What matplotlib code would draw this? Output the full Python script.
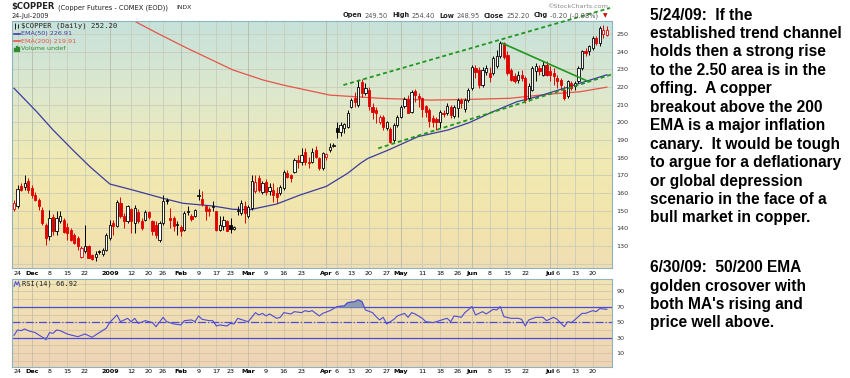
"""
$COPPER daily candles with EMA(50)/EMA(200), trend channel and RSI(14),
plus the chartist's notes on the right.
"""

import numpy as np
import pandas as pd
import matplotlib
matplotlib.use("Agg")
import matplotlib.pyplot as plt
from matplotlib.patches import Rectangle

# ── daily bars, 21-Nov-2008 .. 24-Jul-2009 ───────────────────────────────
opens = [151.0, 152.5, 163.8, 163.3, 167.0, 162.9, 159.0, 156.3, 150.6, 142.0,
         135.5, 146.3, 138.3, 144.0, 145.0, 141.0, 139.3, 136.0, 134.6, 123.6,
         127.0, 129.9, 124.8, 123.6, 127.4, 125.5, 128.0, 134.6, 143.0, 141.2,
         154.4, 146.8, 144.0, 151.2, 143.0, 149.3, 144.0, 145.0, 149.1, 144.0,
         142.1, 133.6, 143.0, 156.3, 145.9, 145.9, 141.7, 140.8, 139.3, 149.3,
         147.2, 146.8, 158.2, 156.7, 152.5, 151.0, 151.9, 149.7, 139.3, 141.2,
         144.0, 142.1, 139.9, 149.7, 148.7, 152.5, 147.0, 151.3, 161.0, 168.3,
         160.8, 166.4, 161.0, 162.0, 159.8, 160.0, 162.7, 171.1, 170.2, 172.1,
         178.7, 177.8, 183.4, 177.8, 177.8, 184.4, 179.6, 174.0, 180.6, 184.4,
         186.8, 197.0, 194.7, 196.6, 197.6, 208.9, 213.6, 209.8, 223.0, 216.4,
         218.5, 208.5, 207.0, 200.4, 202.8, 197.0, 196.0, 190.0, 198.5, 203.2,
         209.2, 213.0, 206.0, 217.7, 214.9, 213.6, 209.2, 207.0, 202.3, 201.7,
         200.4, 205.5, 205.1, 208.9, 203.6, 207.9, 212.6, 207.4, 212.6, 219.2,
         230.6, 229.6, 221.1, 228.7, 227.7, 227.9, 231.7, 237.3, 244.9, 238.3,
         229.8, 226.0, 224.1, 226.9, 225.1, 213.8, 218.5, 228.9, 230.7, 227.0,
         232.6, 228.9, 227.9, 225.1, 224.1, 218.5, 214.7, 222.3, 220.4, 223.2,
         230.7, 240.2, 240.2, 242.0, 247.7, 244.9, 250.0, 249.5]
highs = [156.3, 164.8, 165.7, 170.4, 168.5, 164.8, 160.6, 157.2, 151.9, 143.0,
         150.6, 148.0, 149.7, 150.0, 146.0, 143.0, 140.2, 137.4, 135.5, 129.9,
         142.0, 130.5, 125.5, 127.0, 128.0, 129.0, 137.4, 145.0, 145.0, 156.3,
         158.0, 148.7, 153.4, 151.5, 153.0, 151.0, 146.0, 150.6, 150.0, 145.0,
         144.0, 144.0, 159.0, 157.0, 151.6, 147.0, 144.0, 142.0, 149.7, 152.5,
         148.2, 151.2, 162.5, 161.0, 153.4, 152.0, 155.3, 150.0, 146.8, 146.8,
         145.0, 145.9, 141.5, 152.5, 156.3, 155.3, 153.0, 170.0, 170.0, 170.2,
         167.0, 168.0, 165.5, 165.5, 163.6, 164.5, 173.0, 173.0, 171.0, 179.6,
         181.5, 185.3, 185.3, 180.6, 185.3, 186.6, 180.6, 183.4, 182.5, 188.1,
         188.1, 200.4, 200.4, 199.5, 207.0, 213.6, 217.4, 224.0, 224.5, 222.0,
         220.0, 210.7, 208.9, 204.0, 204.0, 201.0, 197.2, 199.4, 204.2, 209.8,
         214.5, 215.5, 218.3, 218.7, 216.8, 214.5, 209.8, 207.9, 204.2, 203.0,
         207.0, 207.0, 210.7, 209.8, 209.8, 213.6, 213.6, 213.6, 219.2, 232.5,
         232.5, 231.5, 231.5, 232.5, 231.5, 237.3, 241.0, 245.9, 245.5, 240.2,
         230.7, 227.9, 228.9, 229.8, 226.0, 222.3, 231.7, 233.6, 232.6, 234.5,
         234.5, 231.7, 230.7, 227.0, 225.1, 220.4, 224.1, 223.6, 223.2, 231.7,
         241.1, 242.0, 244.0, 248.7, 248.7, 254.3, 255.0, 254.4]
lows = [149.7, 151.5, 161.0, 162.0, 160.0, 157.2, 155.3, 150.6, 141.7, 130.8,
        133.6, 136.0, 136.5, 143.0, 137.4, 133.6, 132.7, 131.0, 128.0, 123.2,
        126.0, 123.0, 122.0, 121.5, 125.5, 124.2, 127.0, 133.6, 136.5, 140.6,
        146.0, 140.0, 143.0, 137.4, 137.4, 143.0, 139.3, 144.0, 145.5, 136.5,
        134.6, 132.3, 142.0, 154.0, 140.2, 138.4, 136.5, 135.5, 138.3, 147.8,
        144.0, 146.3, 156.3, 152.5, 145.0, 147.0, 150.0, 138.7, 138.4, 139.3,
        138.4, 137.4, 139.0, 147.8, 147.8, 143.0, 146.0, 150.5, 160.0, 160.8,
        159.5, 159.0, 159.0, 155.1, 154.2, 159.0, 161.7, 168.3, 166.4, 171.1,
        174.0, 175.9, 175.9, 174.0, 176.8, 179.6, 173.0, 173.0, 178.7, 183.4,
        185.9, 191.0, 192.0, 194.0, 196.6, 208.0, 208.9, 208.9, 214.5, 215.5,
        207.0, 202.0, 199.4, 199.0, 195.8, 195.5, 188.1, 188.1, 197.6, 202.3,
        208.0, 205.1, 205.1, 211.7, 208.9, 203.2, 202.8, 197.5, 197.5, 195.6,
        196.6, 203.0, 204.2, 202.3, 202.3, 203.2, 207.9, 206.0, 211.7, 218.3,
        224.9, 219.2, 220.2, 226.8, 223.0, 227.0, 230.7, 236.4, 236.0, 226.9,
        223.2, 222.3, 222.3, 223.2, 210.9, 211.9, 217.5, 223.2, 227.0, 226.0,
        226.0, 223.2, 221.3, 219.4, 218.5, 212.8, 213.8, 218.5, 218.5, 222.3,
        229.8, 237.3, 238.3, 241.1, 244.0, 243.0, 247.7, 248.95]
closes = [154.4, 162.5, 162.0, 165.7, 162.0, 159.0, 156.3, 152.5, 143.0, 134.6,
          145.9, 138.7, 145.9, 147.0, 138.0, 137.4, 133.6, 132.0, 129.9, 128.9,
          129.9, 123.2, 122.9, 125.5, 126.6, 128.0, 136.5, 142.1, 141.2, 155.0,
          146.8, 144.0, 152.5, 144.0, 151.6, 144.0, 140.2, 149.3, 146.3, 138.4,
          136.5, 143.0, 155.3, 155.3, 145.0, 141.2, 142.5, 138.7, 148.7, 150.0,
          145.5, 150.6, 159.1, 153.8, 150.0, 149.7, 152.5, 139.3, 142.1, 144.6,
          138.7, 139.9, 140.6, 150.6, 154.4, 148.7, 152.0, 167.0, 166.4, 161.7,
          165.5, 160.8, 163.6, 158.9, 157.5, 163.6, 172.1, 169.3, 168.3, 178.7,
          177.8, 181.5, 177.8, 176.8, 183.4, 180.6, 174.0, 182.5, 181.9, 186.2,
          187.2, 194.7, 198.5, 199.0, 205.1, 212.7, 211.7, 220.2, 216.4, 219.2,
          209.0, 206.0, 205.1, 202.8, 197.2, 200.0, 189.0, 198.5, 203.2, 208.9,
          213.0, 205.5, 217.4, 215.5, 213.6, 207.3, 206.0, 200.9, 200.4, 200.0,
          206.0, 204.7, 209.2, 204.2, 208.5, 212.6, 211.1, 212.6, 218.3, 231.5,
          228.7, 221.1, 229.6, 230.6, 225.5, 236.4, 237.3, 244.9, 237.0, 227.9,
          224.1, 223.2, 226.9, 225.1, 212.8, 220.4, 230.7, 231.7, 228.9, 232.6,
          227.0, 226.5, 226.0, 223.2, 221.3, 213.8, 223.2, 219.4, 222.3, 230.7,
          240.2, 239.2, 243.0, 247.7, 244.9, 253.4, 252.4, 252.2]
prior_close = 156.0

holidays = ["2008-11-27", "2008-12-25", "2009-01-01", "2009-01-19",
            "2009-02-16", "2009-04-10", "2009-05-25", "2009-07-03"]

# moving averages, sampled along the curves (trading-day index, value)
ema50_day = [0, 6.4, 11, 16.6, 21.4, 27, 33.5, 42, 47.6, 56, 61.7, 66.5, 74, 80.6,
             88, 94, 97.7, 99.7, 105.4, 113.8, 122.3, 128.2, 134.9, 141.7, 147.3,
             155.2, 159.7, 167]
ema50_val = [219.3, 206.0, 195.7, 184.3, 174.9, 165.1, 161.7, 157.0, 154.2, 152.7,
             150.8, 150.6, 153.8, 158.9, 163.8, 171.2, 177.0, 179.6, 184.3, 191.9,
             195.7, 199.8, 206.0, 211.7, 214.5, 219.4, 222.3, 226.9]
ema200_day = [29.9, 33.2, 40.3, 48.7, 61.7, 70.1, 75.8, 89, 103.1, 117.2, 128.5,
              139.7, 151, 159.4, 167]
ema200_val = [261.8, 258.0, 250.5, 242.0, 229.6, 224.0, 221.1, 215.4, 213.6, 212.6,
              213.0, 213.6, 216.0, 217.3, 219.9]

rsi_day = [0, 1, 2, 3, 4, 6, 7, 9, 10, 11, 12, 13, 15, 16, 18, 20, 22, 23, 24, 26,
           27, 29, 30, 32, 33, 34, 35, 37, 39, 40, 42, 43, 45, 47, 48, 50, 51, 52, 53, 55,
           56, 57, 58, 60, 61, 62, 63, 65, 66, 68, 69, 70, 71, 72, 74, 75, 76, 78, 79, 81,
           82, 83, 84, 86, 87, 89, 91, 93, 94, 96, 97, 98, 99, 101, 102, 103, 104, 105,
           107, 108, 110, 111, 112, 113, 115, 116, 118, 119, 121, 122, 123, 124, 126,
           127, 129, 130, 132, 133, 135, 136, 137, 138, 140, 142, 143, 144, 145, 147,
           149, 150, 152, 153, 155, 156, 157, 159, 160, 161, 163, 164, 165, 167]
rsi_val = [33.0, 40.0, 39.1, 41.3, 39.1, 36.5, 33.5, 27.9, 36.5, 35.7,
           40.0, 39.1, 34.8, 33.5, 31.3, 34.8, 30.5, 33.5, 36.5, 42.2,
           50.0, 59.5, 50.8, 55.1, 50.8, 55.1, 48.6, 52.1, 49.5, 44.3,
           56.4, 50.8, 47.8, 46.5, 52.1, 53.0, 50.8, 58.2, 53.8, 52.1,
           52.1, 45.2, 46.5, 45.2, 48.6, 47.8, 55.1, 52.1, 50.8, 62.5,
           59.5, 61.6, 58.2, 60.8, 55.1, 56.4, 62.5, 60.8, 63.8, 62.5,
           65.1, 63.8, 65.1, 58.2, 61.6, 65.1, 70.3, 71.2, 75.5, 76.8,
           79.0, 76.8, 66.0, 62.5, 57.3, 53.0, 56.4, 47.8, 53.8, 58.2,
           61.6, 56.4, 62.5, 60.8, 55.1, 50.8, 49.5, 50.8, 53.8, 55.1,
           50.8, 58.2, 56.4, 62.5, 70.3, 59.5, 63.8, 60.8, 66.8, 66.0,
           70.3, 57.3, 55.1, 55.1, 53.8, 45.2, 53.0, 56.4, 56.4, 52.1,
           56.4, 53.8, 44.3, 50.8, 49.5, 57.3, 61.6, 61.6, 65.1, 63.8,
           67.7, 66.9]

# hand-drawn trend lines (trading-day index, price)
channel_top_day, channel_top_val = [92.8, 167.9], [221.1, 264.7]
channel_bot_day, channel_bot_val = [102.6, 168.7], [185.3, 227.3]
wedge_day, wedge_val = [137.5, 161.7], [244.8, 223.2]

tick_dates = ["2008-11-24", "2008-12-01", "2008-12-08", "2008-12-15", "2008-12-22",
              "2009-01-02", "2009-01-12", "2009-01-20", "2009-01-26", "2009-02-02",
              "2009-02-09", "2009-02-17", "2009-02-23", "2009-03-02", "2009-03-09",
              "2009-03-16", "2009-03-23", "2009-04-01", "2009-04-06", "2009-04-13",
              "2009-04-20", "2009-04-27", "2009-05-01", "2009-05-11", "2009-05-18",
              "2009-05-26", "2009-06-01", "2009-06-08", "2009-06-15", "2009-06-22",
              "2009-07-01", "2009-07-06", "2009-07-13", "2009-07-20"]
tick_labels = ["24", "Dec", "8", "15", "22", "2009", "12", "20", "26", "Feb", "9", "17",
               "23", "Mar", "9", "16", "23", "Apr", "6", "13", "20", "27", "May", "11",
               "18", "26", "Jun", "8", "15", "22", "Jul", "6", "13", "20"]
bold_labels = {"Dec", "2009", "Feb", "Mar", "Apr", "May", "Jun", "Jul"}

price_ticks = list(range(130, 251, 10))
rsi_ticks = [10, 30, 50, 70, 90]

notes_1 = ["5/24/09:  If the", "established trend channel", "holds then a strong rise",
           "to the 2.50 area is in the", "offing.  A copper", "breakout above the 200",
           "EMA is a major inflation", "canary.  It would be tough",
           "to argue for a deflationary", "or global depression",
           "scenario in the face of a", "bull market in copper."]
notes_2 = ["6/30/09:  50/200 EMA", "golden crosover with", "both MA's rising and",
           "price well above."]

W, H = 850, 378


def fx(px):
    return px / W


def fy(py):
    return 1 - py / H


def gradient(ax, stops):
    pos = [s[0] for s in stops]
    cols = np.array([s[1] for s in stops]) / 255.0
    t = np.linspace(0, 1, 256)
    img = np.stack([np.interp(t, pos, cols[:, c]) for c in range(3)], axis=-1)[:, None, :]
    ax.imshow(img, extent=[0, 1, 0, 1], transform=ax.transAxes, aspect="auto",
              origin="upper", zorder=0, interpolation="bilinear")


def style_panel(ax):
    for sp in ax.spines.values():
        sp.set_linestyle((0, (1, 1)))
        sp.set_color("#8fb3bd")
        sp.set_linewidth(0.8)


def main():
    days = pd.bdate_range("2008-11-21", "2009-07-24", freq="C", holidays=holidays)
    x = np.arange(len(closes))
    tick_idx = [days.get_loc(pd.Timestamp(d)) for d in tick_dates]

    o, h, l, c = map(np.asarray, (opens, highs, lows, closes))
    prev = np.r_[prior_close, c[:-1]]
    col = np.where(c >= prev, "#000000", "#e00000")
    face = np.where(c >= o, "white", col)

    fig = plt.figure(figsize=(W / 100, H / 100), dpi=100)
    xlim = (-0.56, 168.45)

    # ── price panel ───────────────────────────────────
    ax = fig.add_axes([fx(12), fy(268), 600 / W, 247.3 / H])
    gradient(ax, [(0.0, (198, 226, 220)), (0.3, (222, 232, 205)), (0.55, (240, 234, 180)),
                  (0.8, (242, 229, 172)), (1.0, (240, 222, 180))])
    ax.set_xlim(*xlim)
    ax.set_ylim(117.6, 257.5)
    style_panel(ax)

    for p in range(120, 258, 10):
        ax.axhline(p, color="#c9cdb9", lw=0.6, zorder=1)
    for i, lab in zip(tick_idx, tick_labels):
        ax.axvline(i, color="#b5bba8" if lab in bold_labels else "#c9cdb9", lw=0.6, zorder=1)

    ax.plot(ema200_day, ema200_val, color="#e5544a", lw=0.9, zorder=2)
    ax.plot(ema50_day, ema50_val, color="#3c3ca0", lw=0.9, zorder=2)

    ax.vlines(x, l, h, colors=col, lw=0.7, zorder=3)
    ax.bar(x, np.maximum(np.abs(c - o), 0.35), bottom=np.minimum(o, c), width=0.62,
           color=face, edgecolor=col, linewidth=0.6, zorder=4)

    green = "#1f961f"
    ax.plot(channel_top_day, channel_top_val, color=green, lw=1.3, ls=(0, (2.2, 1.6)),
            clip_on=False, zorder=5)
    ax.plot(channel_bot_day, channel_bot_val, color=green, lw=1.3, ls=(0, (2.2, 1.6)),
            clip_on=False, zorder=5)
    ax.plot(wedge_day, wedge_val, color=green, lw=1.2, zorder=5)

    ax.yaxis.tick_right()
    ax.set_yticks(price_ticks)
    ax.tick_params(axis="y", length=0, pad=3, labelsize=4.6, labelcolor="#333333")
    ax.set_xticks(tick_idx)
    ax.set_xticklabels(tick_labels)
    ax.tick_params(axis="x", length=0, pad=2.2, labelsize=4.6)

    # legend block in the panel
    def ay(py):
        return (268 - py) / 247.3

    def axp(px):
        return (px - 12) / 600

    ax.vlines([axp(15), axp(18)], [ay(29), ay(28)], [ay(23), ay(24)], color="black",
              lw=0.6, transform=ax.transAxes, zorder=6)
    ax.text(axp(21), ay(26), "$COPPER (Daily) 252.20", transform=ax.transAxes,
            fontsize=5.2, family="DejaVu Sans Mono", va="center", color="#222222")
    ax.plot([axp(13.5), axp(20)], [ay(33.5)] * 2, color="#3c3ca0", lw=1.2,
            transform=ax.transAxes)
    ax.text(axp(21), ay(33.5), "EMA(50) 226.91", transform=ax.transAxes, fontsize=4.6,
            va="center", color="#3c3ca0")
    ax.plot([axp(13.5), axp(20)], [ay(41.3)] * 2, color="#e5544a", lw=1.2,
            transform=ax.transAxes)
    ax.text(axp(21), ay(41.3), "EMA(200) 219.91", transform=ax.transAxes, fontsize=4.6,
            va="center", color="#e5544a")
    for k, hh in enumerate([3, 5, 4]):
        ax.add_patch(Rectangle((axp(14 + 2 * k), ay(51)), 1.3 / 600, hh / 247.3,
                               transform=ax.transAxes, color="#2e8b2e", zorder=6))
    ax.text(axp(21), ay(48.5), "Volume undef", transform=ax.transAxes, fontsize=4.6,
            va="center", color="#2e8b2e")

    # ── RSI panel ─────────────────────────────────────
    ar = fig.add_axes([fx(12), fy(366.7), 600 / W, 87.4 / H])
    gradient(ar, [(0.0, (242, 230, 182)), (0.5, (240, 220, 180)), (1.0, (238, 212, 182))])
    ar.set_xlim(*xlim)
    ar.set_ylim(-7.7, 105.8)
    style_panel(ar)
    for v in range(0, 101, 10):
        ar.axhline(v, color="#d3c3a6", lw=0.6, zorder=1)
    for i, lab in zip(tick_idx, tick_labels):
        ar.axvline(i, color="#c7bca4" if lab in bold_labels else "#d3c3a6", lw=0.6, zorder=1)
    rsi_blue = "#4b4bd8"
    ar.axhline(70, color=rsi_blue, lw=0.9, zorder=2)
    ar.axhline(30, color=rsi_blue, lw=0.9, zorder=2)
    ar.axhline(50, color=rsi_blue, lw=0.9, ls="-.", zorder=2)
    rd, rv = np.asarray(rsi_day, float), np.asarray(rsi_val)
    ar.fill_between(rd, rv, 70, where=rv > 70, interpolate=True, color="#8d9ab0", zorder=2)
    ar.fill_between(rd, rv, 30, where=rv < 30, interpolate=True, color="#8d9ab0", zorder=2)
    ar.plot(rd, rv, color=rsi_blue, lw=0.8, zorder=3)
    ar.yaxis.tick_right()
    ar.set_yticks(rsi_ticks)
    ar.tick_params(axis="y", length=0, pad=3, labelsize=4.6, labelcolor="#333333")
    ar.set_xticks(tick_idx)
    ar.set_xticklabels(tick_labels)
    ar.tick_params(axis="x", length=0, pad=1.6, labelsize=4.6)

    def ry(py):
        return (366.7 - py) / 87.4

    ar.plot([axp(14), axp(15.5), axp(17), axp(18.5), axp(20)],
            [ry(286.5), ry(281.5), ry(285), ry(281.5), ry(286.5)],
            color=rsi_blue, lw=0.7, transform=ar.transAxes)
    ar.text(axp(21.5), ry(284), "RSI(14) 66.92", transform=ar.transAxes, fontsize=5.0,
            family="DejaVu Sans Mono", va="center", color="#222222")

    for a in (ax, ar):
        for t in a.get_xticklabels():
            if t.get_text() in bold_labels:
                t.set_fontweight("bold")

    # ── header ────────────────────────────────────────
    fig.text(fx(11), fy(7), "$COPPER", fontsize=6.0, fontweight="bold", va="center",
             color="#222222")
    fig.text(fx(58), fy(7.5), "(Copper Futures - COMEX (EOD))", fontsize=4.9,
             va="center", color="#222222")
    fig.text(fx(176), fy(7.5), "INDX", fontsize=4.4, va="center", color="#222222")
    fig.text(fx(11), fy(16), "24-Jul-2009", fontsize=4.7, va="center", color="#222222")
    fig.text(fx(608), fy(7), "\u00a9StockCharts.com", fontsize=4.6, va="center",
             ha="right", color="#888888")

    fig.canvas.draw()
    rend = fig.canvas.get_renderer()
    pieces = [("Open", True), ("249.50", False), ("High", True), ("254.40", False),
              ("Low", True), ("248.95", False), ("Close", True), ("252.20", False),
              ("Chg", True), ("-0.20 (-0.08%)", False)]
    xpos = 343.0
    for s, is_bold in pieces:
        t = fig.text(fx(xpos), fy(15.5), s, fontsize=4.8, va="center",
                     fontweight="bold" if is_bold else "normal",
                     color="#222222" if is_bold else "#555555")
        xpos = t.get_window_extent(rend).x1 + (2.5 if is_bold else 4.0)
    fig.text(fx(xpos), fy(15.5), "\u25bc", fontsize=4.2, va="center", color="#cc0000")

    # ── notes ─────────────────────────────────────────
    for n, line in enumerate(notes_1):
        fig.text(fx(650), fy(15 + 18.45 * n), line, fontsize=11.2, fontweight="bold",
                 family="Liberation Sans", va="center", color="black")
    for n, line in enumerate(notes_2):
        fig.text(fx(650), fy(268 + 18.3 * n), line, fontsize=11.2, fontweight="bold",
                 family="Liberation Sans", va="center", color="black")

    fig.savefig("out.png", dpi=100)
    plt.close(fig)


if __name__ == "__main__":
    main()
